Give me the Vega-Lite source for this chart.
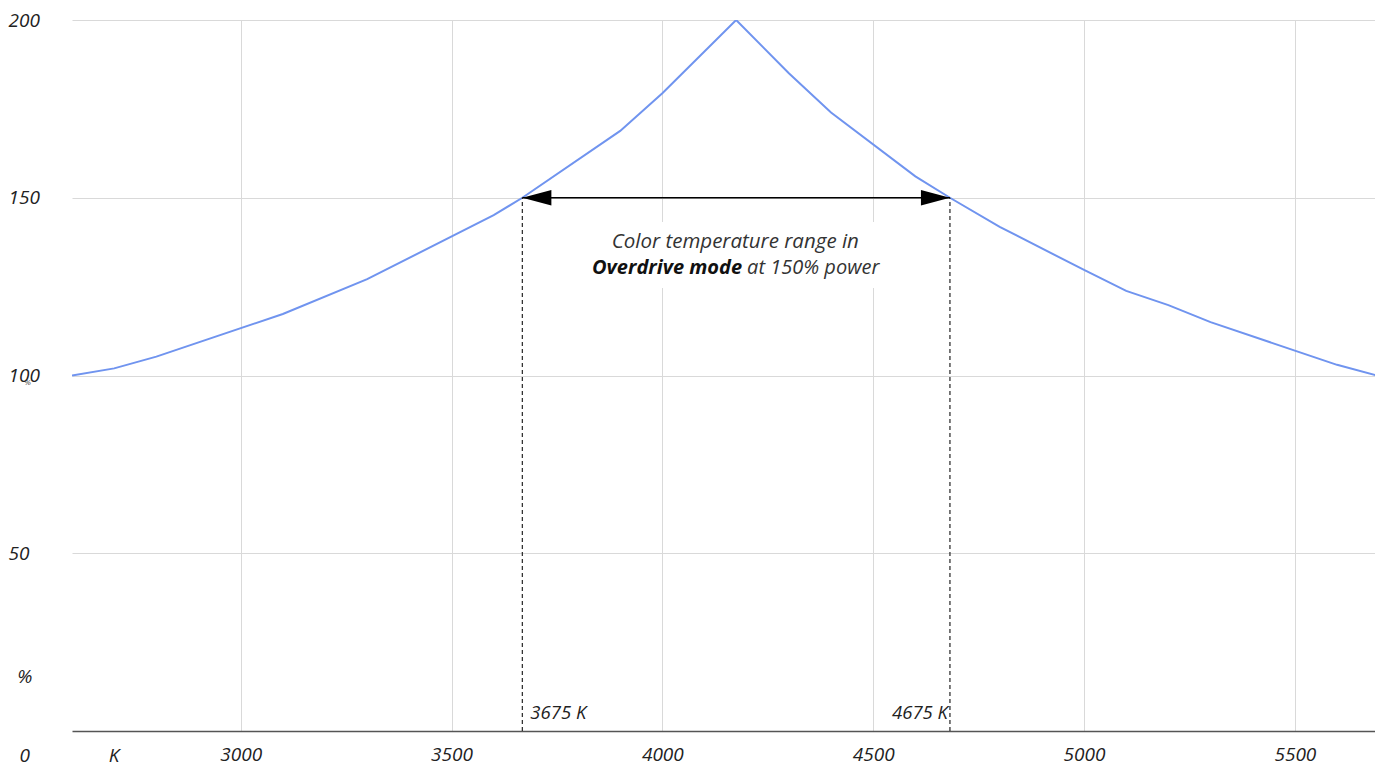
{
  "$schema": "https://vega.github.io/schema/vega-lite/v6.json",
  "width": 1303,
  "height": 711,
  "autosize": {"type": "none"},
  "padding": {"left": 72, "top": 20, "right": 0, "bottom": 31},
  "background": "white",
  "config": {"view": {"stroke": null}, "font": "Open Sans"},
  "datasets": {
    "curve": [
      {"K": 2600, "pct": 100},
      {"K": 2700, "pct": 102},
      {"K": 2800, "pct": 105.3},
      {"K": 3100, "pct": 117.3},
      {"K": 3300, "pct": 127.1},
      {"K": 3600, "pct": 145.1},
      {"K": 3668, "pct": 150},
      {"K": 3900, "pct": 168.8},
      {"K": 4000, "pct": 179.4},
      {"K": 4175, "pct": 200},
      {"K": 4300, "pct": 185},
      {"K": 4400, "pct": 174},
      {"K": 4600, "pct": 156},
      {"K": 4682, "pct": 150},
      {"K": 4800, "pct": 141.8},
      {"K": 5000, "pct": 129.7},
      {"K": 5100, "pct": 123.8},
      {"K": 5200, "pct": 119.8},
      {"K": 5300, "pct": 115},
      {"K": 5600, "pct": 103},
      {"K": 5700, "pct": 99.8}
    ],
    "range": [
      {"K": 3668, "pct": 150, "base": 0, "ly": 5.06, "label": "3675 K", "side": "left"},
      {"K": 4682, "pct": 150, "base": 0, "ly": 5.06, "label": "4675 K", "side": "right"}
    ],
    "extras": [
      {"K": 2488, "pct": -6.9, "label": "0"},
      {"K": 2700, "pct": -6.9, "label": "K"},
      {"K": 2488, "pct": 15.2, "label": "%"}
    ],
    "tiny": [
      {"K": 2495, "pct": 97.9, "label": "%"}
    ],
    "note": [
      {"K": 4173, "pct": 137.5, "label": "Color temperature range in", "part": "line1"},
      {"K": 4189, "pct": 130.2, "label": "Overdrive mode", "part": "bold"},
      {"K": 4201, "pct": 130.2, "label": "at 150% power", "part": "rest"}
    ],
    "box": [
      {"x1": 3817, "x2": 4528, "y1": 124.6, "y2": 143.2}
    ]
  },
  "layer": [
    {
      "data": {"name": "curve"},
      "mark": {"type": "line", "color": "#7094ef", "strokeWidth": 2, "clip": true},
      "encoding": {
        "x": {
          "field": "K",
          "type": "quantitative",
          "scale": {"domain": [2600, 5690], "nice": false, "zero": false},
          "axis": {
            "values": [3000, 3500, 4000, 4500, 5000, 5500],
            "format": "d",
            "grid": true,
            "gridColor": "#d9d9d9",
            "gridWidth": 1,
            "domainColor": "#555555",
            "domainWidth": 1.5,
            "ticks": false,
            "labelFontSize": 19,
            "labelFontStyle": "italic",
            "labelColor": "#222222",
            "labelPadding": 14,
            "labelFlush": false,
            "labelOverlap": false,
            "title": null
          }
        },
        "y": {
          "field": "pct",
          "type": "quantitative",
          "scale": {"domain": [0, 200], "nice": false},
          "axis": {
            "values": [50, 100, 150, 200],
            "grid": true,
            "gridColor": "#d9d9d9",
            "gridWidth": 1,
            "domain": false,
            "ticks": false,
            "labelAlign": "left",
            "labelPadding": 64,
            "labelFontSize": 19,
            "labelFontStyle": "italic",
            "labelColor": "#222222",
            "labelFlush": false,
            "labelOverlap": false,
            "title": null
          }
        }
      }
    },
    {
      "data": {"name": "box"},
      "mark": {"type": "rect", "fill": "white"},
      "encoding": {
        "x": {"field": "x1", "type": "quantitative"},
        "x2": {"field": "x2"},
        "y": {"field": "y1", "type": "quantitative"},
        "y2": {"field": "y2"}
      }
    },
    {
      "data": {"name": "range"},
      "mark": {"type": "rule", "color": "#333333", "strokeWidth": 1.3, "strokeDash": [4, 3]},
      "encoding": {
        "x": {"field": "K", "type": "quantitative"},
        "y": {"field": "base", "type": "quantitative"},
        "y2": {"field": "pct"}
      }
    },
    {
      "data": {"name": "range"},
      "mark": {"type": "line", "color": "#000000", "strokeWidth": 1.5},
      "encoding": {
        "x": {"field": "K", "type": "quantitative"},
        "y": {"field": "pct", "type": "quantitative"}
      }
    },
    {
      "data": {"name": "range"},
      "transform": [{"filter": "datum.side == 'left'"}],
      "mark": {"type": "point", "shape": "M0,0L2,-0.53L2,0.53Z", "size": 841, "filled": true, "color": "#000000", "opacity": 1},
      "encoding": {
        "x": {"field": "K", "type": "quantitative"},
        "y": {"field": "pct", "type": "quantitative"}
      }
    },
    {
      "data": {"name": "range"},
      "transform": [{"filter": "datum.side == 'right'"}],
      "mark": {"type": "point", "shape": "M0,0L-2,-0.53L-2,0.53Z", "size": 841, "filled": true, "color": "#000000", "opacity": 1},
      "encoding": {
        "x": {"field": "K", "type": "quantitative"},
        "y": {"field": "pct", "type": "quantitative"}
      }
    },
    {
      "data": {"name": "range"},
      "transform": [{"filter": "datum.side == 'left'"}],
      "mark": {"type": "text", "align": "left", "baseline": "middle", "dx": 8, "fontSize": 18.5, "fontStyle": "italic", "color": "#222222"},
      "encoding": {
        "x": {"field": "K", "type": "quantitative"},
        "y": {"field": "ly", "type": "quantitative"},
        "text": {"field": "label"}
      }
    },
    {
      "data": {"name": "range"},
      "transform": [{"filter": "datum.side == 'right'"}],
      "mark": {"type": "text", "align": "right", "baseline": "middle", "dx": -2, "fontSize": 18.5, "fontStyle": "italic", "color": "#222222"},
      "encoding": {
        "x": {"field": "K", "type": "quantitative"},
        "y": {"field": "ly", "type": "quantitative"},
        "text": {"field": "label"}
      }
    },
    {
      "data": {"name": "note"},
      "transform": [{"filter": "datum.part == 'line1'"}],
      "mark": {"type": "text", "align": "center", "baseline": "middle", "fontSize": 20.5, "fontStyle": "italic", "color": "#333333"},
      "encoding": {
        "x": {"field": "K", "type": "quantitative"},
        "y": {"field": "pct", "type": "quantitative"},
        "text": {"field": "label"}
      }
    },
    {
      "data": {"name": "note"},
      "transform": [{"filter": "datum.part == 'bold'"}],
      "mark": {"type": "text", "align": "right", "baseline": "middle", "fontSize": 20, "fontStyle": "italic", "fontWeight": "bold", "color": "#111111"},
      "encoding": {
        "x": {"field": "K", "type": "quantitative"},
        "y": {"field": "pct", "type": "quantitative"},
        "text": {"field": "label"}
      }
    },
    {
      "data": {"name": "note"},
      "transform": [{"filter": "datum.part == 'rest'"}],
      "mark": {"type": "text", "align": "left", "baseline": "middle", "fontSize": 20, "fontStyle": "italic", "color": "#333333"},
      "encoding": {
        "x": {"field": "K", "type": "quantitative"},
        "y": {"field": "pct", "type": "quantitative"},
        "text": {"field": "label"}
      }
    },
    {
      "data": {"name": "extras"},
      "mark": {"type": "text", "align": "center", "baseline": "middle", "fontSize": 19, "fontStyle": "italic", "color": "#222222"},
      "encoding": {
        "x": {"field": "K", "type": "quantitative"},
        "y": {"field": "pct", "type": "quantitative"},
        "text": {"field": "label"}
      }
    },
    {
      "data": {"name": "tiny"},
      "mark": {"type": "text", "align": "center", "baseline": "middle", "fontSize": 8, "fontStyle": "italic", "color": "#444444"},
      "encoding": {
        "x": {"field": "K", "type": "quantitative"},
        "y": {"field": "pct", "type": "quantitative"},
        "text": {"field": "label"}
      }
    }
  ]
}
